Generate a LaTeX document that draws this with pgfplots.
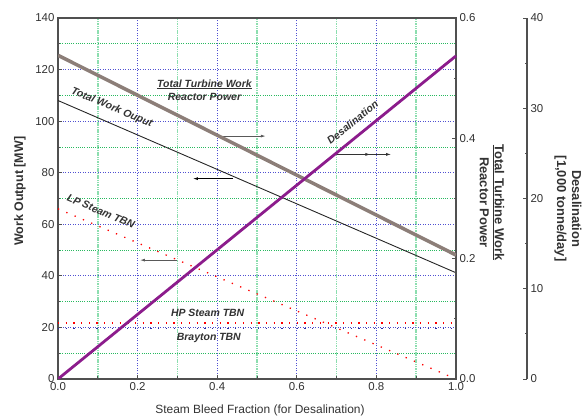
\documentclass[border=0pt]{standalone}
\usepackage{pgfplots}
\pgfplotsset{compat=1.18}
\usepackage{fontspec}
\setmainfont{Liberation Sans}
\setsansfont{Liberation Sans}
\usetikzlibrary{arrows.meta}

\definecolor{turb}{RGB}{140,126,120}
\definecolor{desal}{RGB}{140,28,140}
\definecolor{gridblue}{RGB}{80,80,210}
\definecolor{dotblue}{RGB}{40,40,160}
\definecolor{gridgreen}{RGB}{40,185,95}
\definecolor{gridmint}{RGB}{140,222,175}
\definecolor{txt}{RGB}{50,50,50}
\definecolor{ax}{RGB}{80,80,80}

\pgfplotsset{
  common/.style={
    scale only axis, height=361bp,
    ymin=0,
    tick align=inside,
    major tick length=4bp, minor tick length=2.5bp,
    every tick/.style={ax, line width=0.8bp},
    axis line style={ax, line width=1.2bp},
    tick label style={font=\fontsize{11.5}{13}\selectfont, text=txt},
    /pgf/number format/assume math mode=true,
    label style={font=\bfseries\fontsize{13}{15}\selectfont, text=txt},
  },
}
\tikzset{
  ann/.style={font=\bfseries\itshape\fontsize{10.5}{12}\selectfont, text=txt},
  arr/.style={-{Latex[length=5bp,width=3bp]}, line width=0.8bp},
}

\begin{document}
\begin{tikzpicture}
\useasboundingbox (-58bp,-41bp) rectangle (524bp,379bp);

% main axis: work output in MW
\begin{axis}[common,
  width=398bp,
  xmin=0, xmax=1, ymax=140,
  tick pos=left,
  xtick={0,0.2,0.4,0.6,0.8,1.0},
  minor xtick={0.1,0.3,0.5,0.7,0.9},
  ytick={0,20,40,60,80,100,120,140},
  minor ytick={10,30,50,70,90,110,130},
  xticklabel style={/pgf/number format/.cd, fixed, fixed zerofill, precision=1},
  grid=both,
  major grid style={gridblue, line width=0.8bp, dash pattern=on 1bp off 1.5bp},
  minor x grid style={gridmint, line width=1.5bp, dash pattern=on 1.5bp off 0.8bp},
  minor y grid style={gridgreen, line width=0.8bp, dash pattern=on 1bp off 1.2bp},
  xlabel={Steam Bleed Fraction (for Desalination)},
  xlabel style={font=\fontsize{12}{14}\selectfont, at={(axis description cs:0.5075,-0.0859)}, anchor=center},
  ylabel={Work Output [MW]},
  ylabel style={font=\bfseries\fontsize{12.5}{14}\selectfont, at={(axis description cs:-0.0955,0.52)}, anchor=center},
]
% total work output
\addplot[black!85, line width=0.9bp] coordinates {(0,108) (1,41.2)};
% LP steam turbine
\addplot[red, line width=1.3bp, dash pattern=on 1.3bp off 7.7bp] coordinates {(0,66) (1,0)};
% HP steam turbine
\addplot[red, line width=1.3bp, dash pattern=on 1.3bp off 6.4bp] coordinates {(0,21.7) (1,21.7)};
% Brayton turbine
\addplot[dotblue, line width=1.2bp, dash pattern=on 1.2bp off 6.5bp] coordinates {(0,19.6) (1,19.6)};

\node[ann, align=center, inner sep=0pt] at (axis cs:0.368,112.1)
  {\underline{Total Turbine Work}\\[1bp]Reactor Power};
\node[ann, rotate=-23] at (axis cs:0.135,105.2) {Total Work Ouput};
\node[ann, rotate=-23] at (axis cs:0.108,65.0) {LP Steam TBN};
\node[ann, rotate=39] at (axis cs:0.74,99.5) {Desalination};
\node[ann] at (axis cs:0.376,25.7) {HP Steam TBN};
\node[ann] at (axis cs:0.379,15.8) {Brayton TBN};

\draw[arr, black!65] (axis cs:0.402,94.2) -- (axis cs:0.522,94.2);
\draw[arr, black] (axis cs:0.44,77.7) -- (axis cs:0.339,77.7);
\draw[arr, black!65] (axis cs:0.298,46.1) -- (axis cs:0.206,46.1);
\draw[arr, black!80] (axis cs:0.692,87.1) -- (axis cs:0.837,87.1);
\draw[arr, black!80] (axis cs:0.692,87.1) -- (axis cs:0.785,87.1);
\end{axis}

% first right axis: turbine work / reactor power
\begin{axis}[common,
  width=398bp,
  xmin=0, xmax=1, ymax=0.6,
  axis x line=none, axis y line*=right,
  ytick={0,0.2,0.4,0.6},
  minor ytick={0.1,0.3,0.5},
  yticklabel style={/pgf/number format/.cd, fixed, fixed zerofill, precision=1},
  ylabel={\underline{Total Turbine Work}\\Reactor Power},
  ylabel style={align=center, rotate=180, at={(axis description cs:1.0905,0.489)}, anchor=center},
]
\addplot[turb, line width=3.5bp] coordinates {(0,0.538) (1,0.206)};
\end{axis}

% second right axis: desalination, spine 71bp to the right
\begin{axis}[common,
  width=469bp,
  xmin=0, xmax=1.178392, ymax=40,
  axis x line=none, axis y line*=right,
  ytick={0,10,20,30,40},
  minor ytick={5,15,25,35},
  ylabel={Desalination\\{[}1,000 tonne/day{]}},
  ylabel style={align=center, rotate=180, at={(axis description cs:1.0874,0.472)}, anchor=center},
]
\addplot[desal, line width=2.8bp] coordinates {(0,0) (1,35.8)};
\end{axis}

\end{tikzpicture}
\end{document}
